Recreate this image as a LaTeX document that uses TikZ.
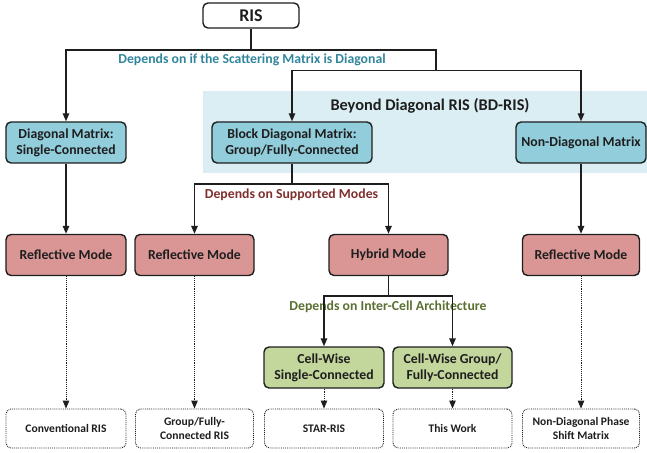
\documentclass[tikz,border=0pt]{standalone}
\usepackage{fontspec}
\setmainfont{Carlito}
\usetikzlibrary{arrows.meta}
\definecolor{boxblue}{HTML}{92CDDC}
\definecolor{bdfill}{HTML}{DAEEF3}
\definecolor{boxred}{HTML}{D99694}
\definecolor{boxgreen}{HTML}{C3D69B}
\definecolor{lblblue}{HTML}{31859C}
\definecolor{lblred}{HTML}{7F2F2D}
\definecolor{lblgreen}{HTML}{5A7030}
\definecolor{edge}{HTML}{1E1E1E}
\tikzset{
  base/.style={rounded corners=5bp, line width=1.4bp, draw=edge, align=center, inner sep=1bp,
     font=\fontsize{13.8}{16}\selectfont\bfseries, text=edge},
  bluebox/.style={base, fill=boxblue},
  redbox/.style={base, fill=boxred},
  greenbox/.style={base, fill=boxgreen},
  dotbox/.style={rounded corners=5bp, line width=0.9bp, draw=edge, densely dotted, align=center, inner sep=1bp,
     font=\fontsize{11.6}{14}\selectfont\bfseries, text=edge, minimum height=39bp},
  conn/.style={line width=1.4bp, draw=edge},
  arr/.style={conn, -{Triangle[length=8bp,width=6.5bp]}},
  dotarr/.style={line width=0.9bp, draw=edge, densely dotted, -{Triangle[length=8bp,width=6.5bp]}},
  lbl/.style={font=\fontsize{13.8}{16}\selectfont\bfseries, inner sep=0pt},
}
\begin{document}
\begin{tikzpicture}[x=1bp,y=-1bp]
\useasboundingbox (0,0) rectangle (647,453);
% BD region
\fill[bdfill] (203,91) rectangle (647,173);
\node[lbl, font=\fontsize{16.4}{18}\selectfont\bfseries, text=edge] (bdlabel) at (430,106) {Beyond Diagonal RIS (BD-RIS)};

% top
\node[base, fill=white, minimum width=96bp, minimum height=25bp, font=\fontsize{18}{20}\selectfont\bfseries] (ris) at (251,15.5) {RIS};

\node[bluebox, minimum width=120bp, minimum height=41bp] (diag) at (66,142.5) {Diagonal Matrix:\\Single-Connected};
\node[bluebox, minimum width=160bp, minimum height=41bp] (block) at (292,142.5) {Block Diagonal Matrix:\\Group/Fully-Connected};
\node[bluebox, minimum width=130bp, minimum height=41bp] (nond) at (581,142.5) {Non-Diagonal Matrix};

\node[redbox, minimum width=120bp, minimum height=41bp] (r1) at (66,255) {Reflective Mode};
\node[redbox, minimum width=119bp, minimum height=41bp] (r2) at (194.5,255) {Reflective Mode};
\node[redbox, minimum width=119bp, minimum height=41bp] (hyb) at (388.5,255) {Hybrid Mode};
\node[redbox, minimum width=117bp, minimum height=41bp] (r4) at (581,255) {Reflective Mode};

\node[greenbox, minimum width=120bp, minimum height=41bp] (g1) at (324,367.5) {Cell-Wise\\Single-Connected};
\node[greenbox, minimum width=119bp, minimum height=41bp] (g2) at (452.5,367.5) {Cell-Wise Group/\\Fully-Connected};

\node[dotbox, minimum width=120bp] (b1) at (66,428.5) {Conventional RIS};
\node[dotbox, minimum width=118bp] (b2) at (194.5,428.5) {Group/Fully-\\Connected RIS};
\node[dotbox, minimum width=119bp] (b3) at (324,428.5) {STAR-RIS};
\node[dotbox, minimum width=119bp] (b4) at (452.5,428.5) {This Work};
\node[dotbox, minimum width=117bp] (b5) at (581,428.5) {Non-Diagonal Phase\\Shift Matrix};

% labels
\node[lbl, text=lblblue] (l1) at (252,60) {Depends on if the Scattering Matrix is Diagonal};
\node[lbl, text=lblred] (l2) at (291.5,194.5) {Depends on Supported Modes};
\node[lbl, text=lblgreen] (l3) at (388,306.5) {Depends on Inter-Cell Architecture};

% connectors level 1
\coordinate (k1) at (436,50);
\coordinate (k2) at (436,70.5);
\draw[conn] (ris.south) |- (k1) -- (k2);
\draw[arr] (ris.south |- k1) -| (diag.north);
\draw[arr] (k2) -| (block.north);
\draw[arr] (k2) -| (nond.north);

% level 2
\coordinate (k3) at (292,184);
\draw[conn] (block.south) -- (k3);
\draw[arr] (k3) -| (r2.north);
\draw[arr] (k3) -| (hyb.north);
\draw[arr] (diag.south) -- (r1.north);
\draw[arr] (nond.south) -- (r4.north);

% level 3
\coordinate (k4) at (388.5,296);
\draw[conn] (hyb.south) -- (k4);
\draw[arr] (k4) -| (g1.north);
\draw[arr] (k4) -| (g2.north);

% dotted
\draw[dotarr] (r1.south) -- (b1.north);
\draw[dotarr] (r2.south) -- (b2.north);
\draw[dotarr] (g1.south) -- (b3.north);
\draw[dotarr] (g2.south) -- (b4.north);
\draw[dotarr] (r4.south) -- (b5.north);
\end{tikzpicture}
\end{document}
